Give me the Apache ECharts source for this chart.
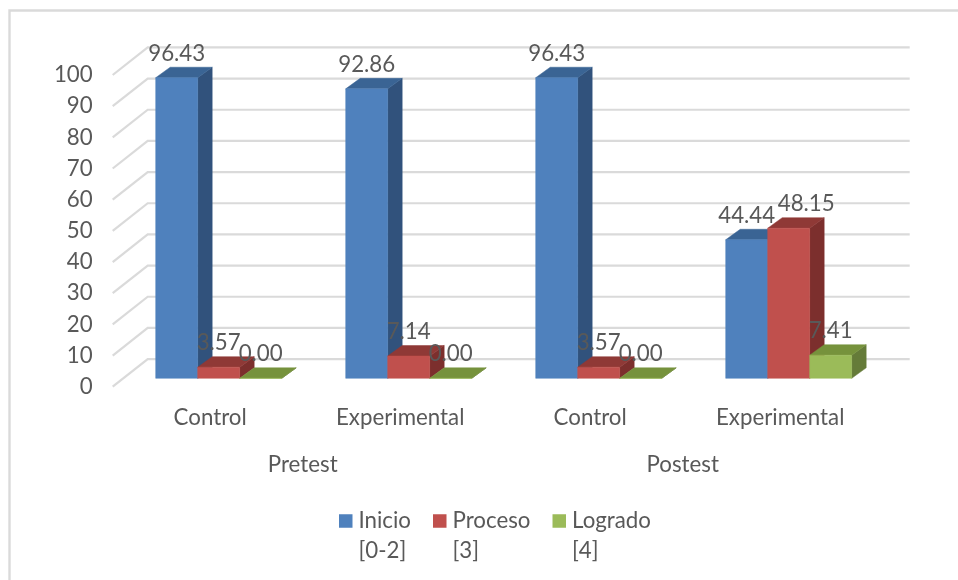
<!DOCTYPE html>
<html><head><meta charset="utf-8">
<style>html,body{margin:0;padding:0;background:#fff}#c{width:958px;height:580px}</style>
<script src="https://cdn.jsdelivr.net/npm/echarts@6/dist/echarts.min.js"></script>
</head><body><div id="c"></div>
<script>
const categories = ['Control','Experimental','Control','Experimental'];
const groups = ['Pretest','Postest'];
const seriesNames = ['Inicio','Proceso','Logrado'];
const seriesRanges = ['[0-2]','[3]','[4]'];
const inicio = [96.43,92.86,96.43,44.44];
const proceso = [3.57,7.14,3.57,48.15];
const logrado = [0.00,0.00,0.00,7.41];
const yTicks = [0,10,20,30,40,50,60,70,80,90,100];

const FONT='Lato', FS=22.3, TXT='#595959', GRID='#dadada';
const palette=[
 {front:'#4f81bd',side:'#31527c',top:'#3a6494'},
 {front:'#c0504d',side:'#7c2f2d',top:'#8f3936'},
 {front:'#9bbb59',side:'#657b39',top:'#76923c'}];
const WALL=[35,-27.6], FLOOR=[11,-8.4], DEPTH=[14.5,-10.5], BAR_FRAC=126/190/3;
const poly=(pts,fill,z2)=>({type:'polygon',shape:{points:pts},style:{fill,stroke:fill,lineWidth:.5},z2});

function barSeries(si,values){
  const rows=values.map((v,i)=>[i,v]);
  return {type:'custom',name:seriesNames[si],coordinateSystem:'cartesian2d',
    itemStyle:{color:palette[si].front},data:rows,encode:{x:0,y:1},clip:false,
    renderItem(p,api){
      const i=api.value(0),v=api.value(1),c=palette[si];
      const band=api.size([1,0])[0],w=band*BAR_FRAC;
      const base=api.coord([i,0]),top=api.coord([i,v]);
      const xl=base[0]+FLOOR[0]+(si-1.5)*w,xr=xl+w;
      const yb=base[1]+FLOOR[1],yt=top[1]+FLOOR[1];
      const dx=DEPTH[0],dy=DEPTH[1],z=10+si*5;
      const nudge=(si===1&&i===3)?17.5:0;
      return {type:'group',children:[
        poly([[xr,yb],[xr+dx,yb+dy],[xr+dx,yt+dy],[xr,yt]],c.side,z),
        poly([[xl,yt],[xr,yt],[xr+dx,yt+dy],[xl+dx,yt+dy]],c.top,z+1),
        poly([[xl,yb],[xr,yb],[xr,yt],[xl,yt]],c.front,z+2),
        {type:'text',z2:100,style:{x:(xl+xr)/2+nudge,y:yt-24,text:v.toFixed(2),
          font:FS+'px '+FONT,fill:TXT,align:'center',verticalAlign:'middle'}}
      ]};
    }};
}
const wallSeries={type:'custom',coordinateSystem:'cartesian2d',silent:true,clip:false,
  data:yTicks.map(t=>[0,t]),encode:{x:0,y:1},
  renderItem(p,api){
    const a=api.coord([0,api.value(1)]);
    const x0=p.coordSys.x, xe=p.coordSys.x+p.coordSys.width;
    const y=a[1];
    const ls={stroke:GRID,lineWidth:2.2,fill:null};
    return {type:'group',children:[
      {type:'polyline',shape:{points:[[x0,y],[x0+WALL[0],y+WALL[1]],[xe+WALL[0]+2,y+WALL[1]]]},style:ls,z2:1}
    ]};
  }};

const chart=echarts.init(document.getElementById('c'),null,{renderer:'canvas'});
chart.setOption({
  animation:false,backgroundColor:'#fff',
  graphic:[{type:'polyline',silent:true,z:0,shape:{points:[[9.5,580],[9.5,10.5],[958,10.5]]},
    style:{stroke:GRID,lineWidth:2.4,fill:null}}],
  legend:{left:334,top:471,orient:'horizontal',itemWidth:13.5,itemHeight:13.5,itemGap:22,icon:'rect',selectedMode:false,
    data:seriesNames,
    formatter:n=>' \n'+n+'\n'+seriesRanges[seriesNames.indexOf(n)],
    textStyle:{fontFamily:FONT,fontSize:FS,color:TXT,lineHeight:30,padding:[0,0,0,1]}},
  grid:{left:112.7,width:760,top:75,height:311.7,containLabel:false},
  xAxis:[
   {type:'category',data:categories,position:'bottom',axisLine:{show:false},axisTick:{show:false},
    axisLabel:{fontFamily:FONT,fontSize:FS,color:TXT,margin:20,padding:[0,0,0,5],interval:0}},
   {type:'category',data:groups,position:'bottom',offset:47,axisLine:{show:false},axisTick:{show:false},
    axisLabel:{fontFamily:FONT,fontSize:FS,color:TXT,margin:20,interval:0}}
  ],
  yAxis:{type:'value',min:0,max:100,interval:10,axisLine:{show:false},axisTick:{show:false},splitLine:{show:false},
    axisLabel:{fontFamily:FONT,fontSize:FS,color:TXT,margin:20,
      formatter:v=>String(yTicks[yTicks.indexOf(v)])}},
  series:[wallSeries,barSeries(0,inicio),barSeries(1,proceso),barSeries(2,logrado)]
});
</script></body></html>
